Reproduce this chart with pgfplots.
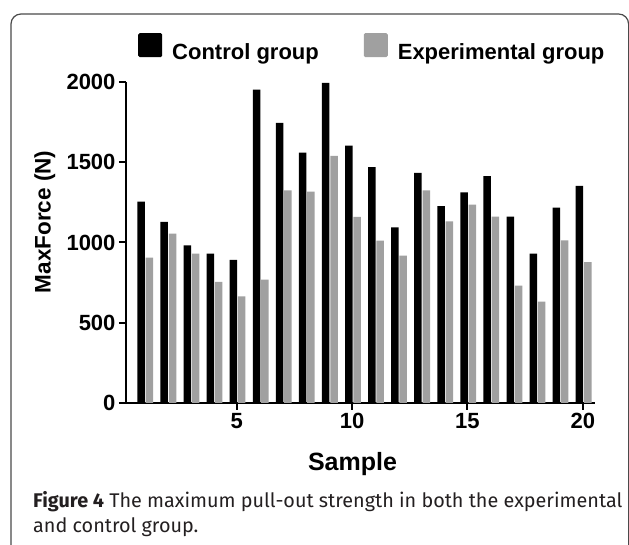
\documentclass[border=0pt]{standalone}
\usepackage{pgfplots}
\pgfplotsset{compat=1.18}
\usepackage{fontspec}
\setmainfont{Liberation Sans}
\newfontfamily\capfont{Fira Sans}
\definecolor{expgray}{HTML}{A0A0A0}
\definecolor{framegray}{HTML}{4A4A4A}
\definecolor{captext}{HTML}{231F20}

\pgfplotstableread{
x  control  exp
1  1255  905
2  1128  1055
3  982   930
4  930   754
5  891   665
6  1952  768
7  1745  1325
8  1560  1317
9  1995  1539
10 1603  1159
11 1470  1011
12 1094  918
13 1433  1325
14 1227  1132
15 1313  1236
16 1414  1161
17 1161  731
18 930   631
19 1217  1013
20 1352  878
}\forcedata

\begin{document}
\begin{tikzpicture}[x=1pt,y=1pt]
\useasboundingbox (0,0) rectangle (629,545);
\draw[framegray, line width=1.2pt, rounded corners=10pt] (11,-20) rectangle (628.6,531);
\begin{axis}[
  at={(126pt,142pt)}, anchor=south west,
  scale only axis, width=469pt, height=321pt,
  xmin=0.2, xmax=20.53, ymin=0, ymax=2000,
  axis x line*=bottom, axis y line*=left,
  axis line style={-, line width=2.5pt},
  tick align=outside, major tick length=7pt,
  every tick/.style={black, line width=2pt},
  xtick={5,10,15,20}, ytick={0,500,1000,1500,2000},
  scaled ticks=false,
  /pgf/number format/1000 sep={},
  /pgf/number format/assume math mode=true,
  ticklabel style={font=\fontsize{22}{22}\selectfont\bfseries},
  xlabel={Sample}, ylabel={MaxForce (N)},
  xlabel style={font=\fontsize{25}{25}\selectfont\bfseries, at={(axis description cs:0.483,-0.2118)}, anchor=base},
  ylabel style={font=\fontsize{22.5}{22.5}\selectfont\bfseries, at={(axis description cs:-0.173,0.564)}, anchor=center},
  ybar, bar width=7.5pt,
  legend columns=2,
  legend style={at={(axis description cs:0.0256,1.109)}, anchor=west, draw=none, fill=none, inner sep=0pt,
    font=\fontsize{22}{22}\selectfont\bfseries,
    nodes={inner xsep=10pt, inner ysep=0pt},
    /tikz/every even column/.append style={column sep=35pt}},
]
\addplot[fill=black, draw=none, bar shift=-3.3pt,
  legend image code/.code={\fill[black, rounded corners=1.5pt] (0pt,-5pt) rectangle (24pt,19pt);}]
  table[x=x, y=control] {\forcedata};
\addlegendentry{Control group}
\addplot[fill=expgray, draw=none, bar shift=5pt,
  legend image code/.code={\fill[expgray, rounded corners=1.5pt] (0pt,-5pt) rectangle (24pt,19pt);}]
  table[x=x, y=exp] {\forcedata};
\addlegendentry{Experimental group}
\end{axis}
\node[anchor=base west, inner sep=0pt, text=captext, font=\capfont\fontsize{19.8}{26}\selectfont] at (33,37)
  {\textbf{Figure 4} The maximum pull-out strength in both the experimental};
\node[anchor=base west, inner sep=0pt, text=captext, font=\capfont\fontsize{19.8}{26}\selectfont] at (33,12)
  {and control group.};
\end{tikzpicture}
\end{document}
